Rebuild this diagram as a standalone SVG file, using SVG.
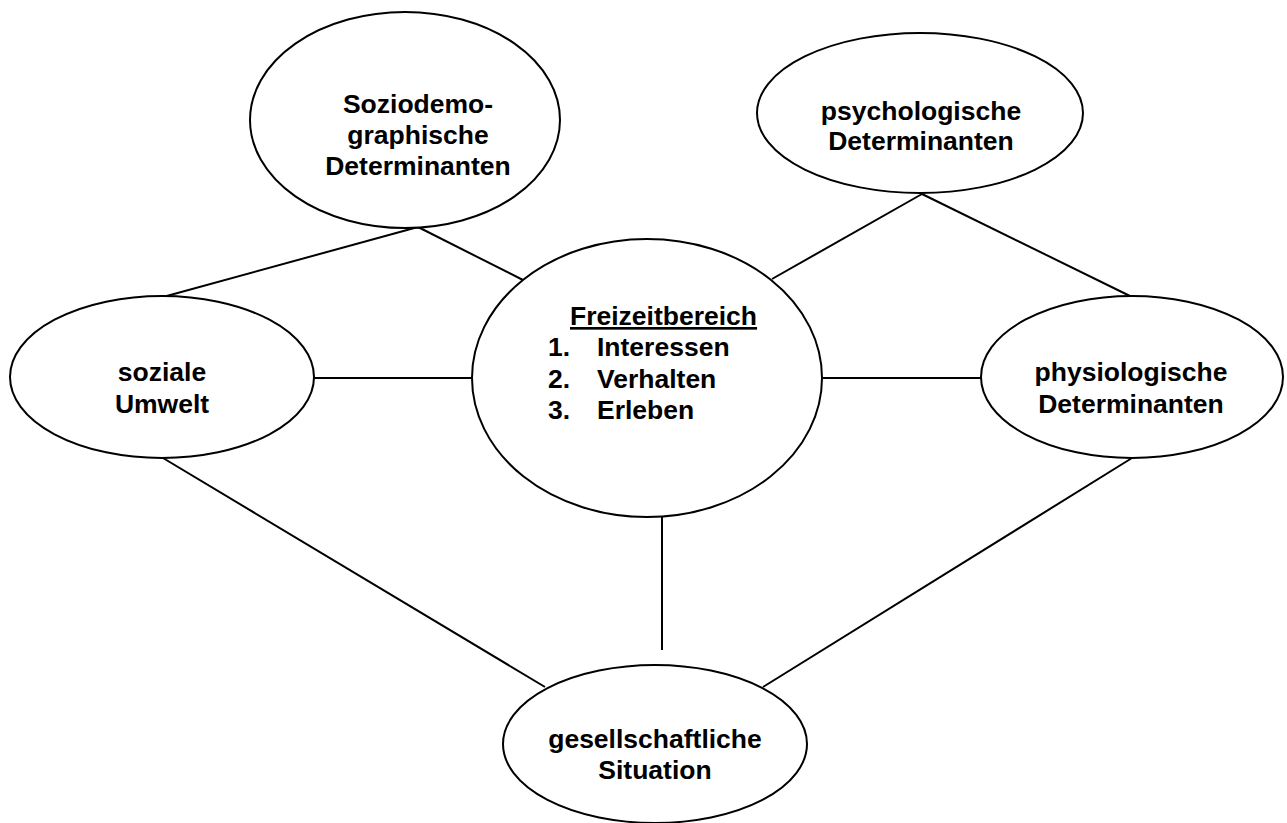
<svg xmlns="http://www.w3.org/2000/svg" width="1287" height="823" viewBox="0 0 1287 823">
<style>
.n{fill:#fff;stroke:#000;stroke-width:2}
.c line{stroke:#000;stroke-width:2}
text{font-family:"Liberation Sans",Arial,sans-serif;font-weight:bold;font-size:26.5px;fill:#000}
.m{text-anchor:middle}
</style>
<rect width="1287" height="823" fill="#fff"/>
<g id="connectors" class="c">
<line x1="163" y1="297" x2="418" y2="227"/>
<line x1="418" y1="227" x2="523" y2="280"/>
<line x1="922" y1="194" x2="772" y2="279"/>
<line x1="922" y1="194" x2="1132" y2="297"/>
<line x1="313" y1="378" x2="472" y2="378"/>
<line x1="822" y1="378" x2="981" y2="378"/>
<line x1="163" y1="458" x2="545" y2="687"/>
<line x1="1132" y1="458" x2="763" y2="687"/>
<line x1="662" y1="517" x2="662" y2="650"/>
</g>
<g id="soziodemographische">
<ellipse class="n" cx="405" cy="120" rx="155" ry="108"/>
<text class="m" x="418" y="113">Soziodemo-</text>
<text class="m" x="418" y="144">graphische</text>
<text class="m" x="418" y="175">Determinanten</text>
</g>
<g id="psychologische">
<ellipse class="n" cx="920" cy="113" rx="163" ry="80"/>
<text class="m" x="921" y="120">psychologische</text>
<text class="m" x="921" y="150">Determinanten</text>
</g>
<g id="freizeitbereich">
<ellipse class="n" cx="647" cy="378" rx="175" ry="139"/>
<text x="570" y="325" text-decoration="underline">Freizeitbereich</text>
<text x="548" y="356">1.</text><text x="597" y="356">Interessen</text>
<text x="548" y="388">2.</text><text x="597" y="388">Verhalten</text>
<text x="548" y="419">3.</text><text x="597" y="419">Erleben</text>
</g>
<g id="soziale-umwelt">
<ellipse class="n" cx="162" cy="377" rx="152" ry="81"/>
<text class="m" x="162" y="381">soziale</text>
<text class="m" x="162" y="413">Umwelt</text>
</g>
<g id="physiologische">
<ellipse class="n" cx="1132" cy="377" rx="151" ry="81"/>
<text class="m" x="1131" y="381">physiologische</text>
<text class="m" x="1131" y="413">Determinanten</text>
</g>
<g id="gesellschaftliche">
<ellipse class="n" cx="655" cy="744" rx="152" ry="79"/>
<text class="m" x="655" y="748">gesellschaftliche</text>
<text class="m" x="655" y="779">Situation</text>
</g>
</svg>
